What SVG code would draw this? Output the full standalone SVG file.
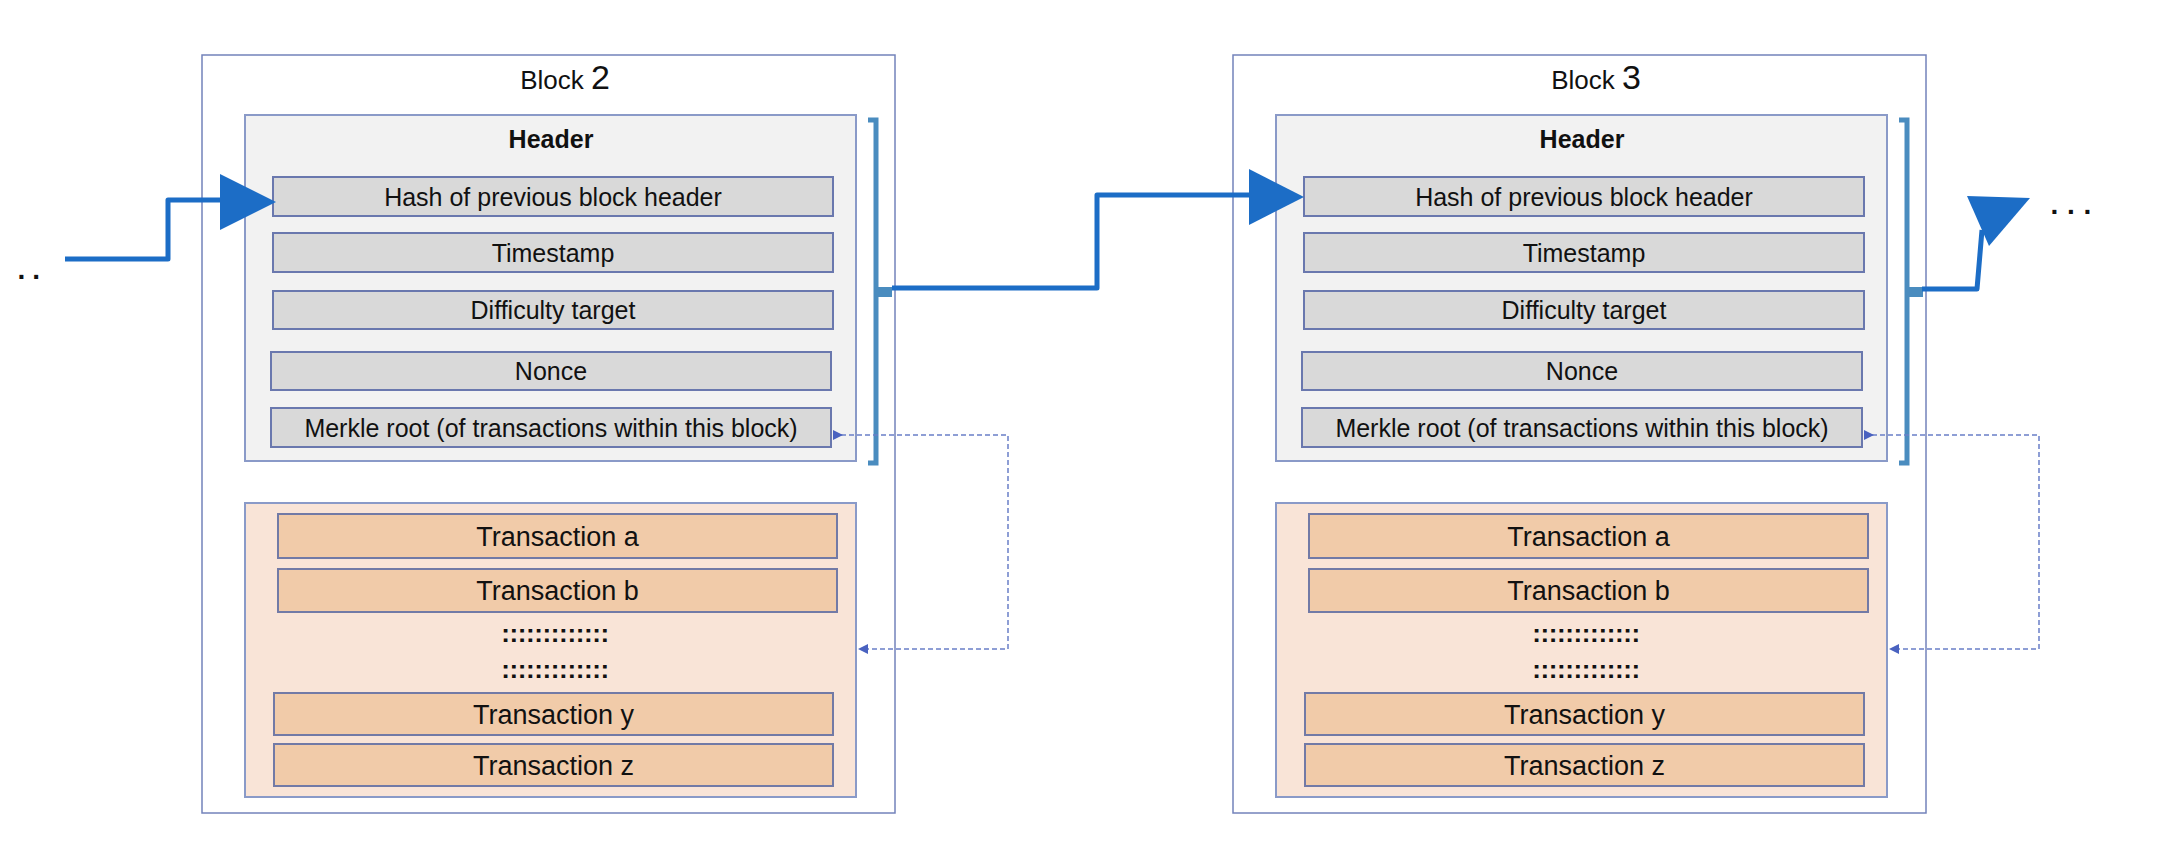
<svg xmlns="http://www.w3.org/2000/svg" width="2160" height="848" viewBox="0 0 2160 848">
<style>
  text { font-family: "Liberation Sans", Arial, sans-serif; fill: #111; }
  .outer { fill: #ffffff; stroke: #7383bb; stroke-width: 1.5; }
  .hdrbox { fill: #f2f2f2; stroke: #8a9ac8; stroke-width: 2; }
  .row { fill: #d9d9d9; stroke: #6a78ae; stroke-width: 2; }
  .txbox { fill: #f9e4d7; stroke: #8a9ac8; stroke-width: 2; }
  .txrow { fill: #f1cba9; stroke: #727aa6; stroke-width: 2; }
  .rowtxt { font-size: 25px; text-anchor: middle; }
  .txtxt { font-size: 27px; text-anchor: middle; }
  .dots { font-size: 26px; font-weight: bold; text-anchor: middle; letter-spacing: -0.4px; }
  .title { text-anchor: middle; }
  .brace { fill: none; stroke: #4a8cbf; stroke-width: 5; }
  .notch { fill: #4a8cbf; }
  .thick { fill: none; stroke: #1c6dc6; stroke-width: 5; stroke-linejoin: round; }
  .head { fill: #1c6dc6; }
  .dash { fill: none; stroke: #6a7fc8; stroke-width: 1.5; stroke-dasharray: 5 3; marker-start: url(#tri); marker-end: url(#tri); }
  .ell { font-size: 28px; font-weight: bold; }
</style>
<defs>
  <marker id="tri" markerUnits="userSpaceOnUse" markerWidth="10" markerHeight="10" viewBox="0 0 10 10" refX="0" refY="5" orient="auto">
    <path d="M0,0 L10,5 L0,10 z" fill="#4a62c0"/>
  </marker>
</defs>

<g id="block2">
  <rect class="outer" x="202" y="55" width="693" height="758"/>
  <text class="title" x="565" y="89"><tspan font-size="26">Block </tspan><tspan font-size="34">2</tspan></text>
  <g id="header2">
    <rect class="hdrbox" x="245" y="115" width="611" height="346"/>
    <text x="551" y="148" font-size="25" font-weight="bold" text-anchor="middle">Header</text>
    <rect class="row" x="273" y="177" width="560" height="39"/>
    <text class="rowtxt" x="553" y="205.5">Hash of previous block header</text>
    <rect class="row" x="273" y="233" width="560" height="39"/>
    <text class="rowtxt" x="553" y="261.5">Timestamp</text>
    <rect class="row" x="273" y="291" width="560" height="38"/>
    <text class="rowtxt" x="553" y="319">Difficulty target</text>
    <rect class="row" x="271" y="352" width="560" height="38"/>
    <text class="rowtxt" x="551" y="380">Nonce</text>
    <rect class="row" x="271" y="408" width="560" height="39"/>
    <text class="rowtxt" x="551" y="436.5">Merkle root (of transactions within this block)</text>
  </g>
  <g id="brace2">
    <path class="brace" d="M868 120 H876 V463 H868"/>
    <rect class="notch" x="874" y="287" width="18" height="10"/>
  </g>
  <g id="tx2">
    <rect class="txbox" x="245" y="503" width="611" height="294"/>
    <rect class="txrow" x="278" y="514" width="559" height="44"/>
    <text class="txtxt" x="557.5" y="545.5">Transaction a</text>
    <rect class="txrow" x="278" y="569" width="559" height="43"/>
    <text class="txtxt" x="557.5" y="600">Transaction b</text>
    <text class="dots" x="555" y="641.5">:::::::::::::</text>
    <text class="dots" x="555" y="677.5">:::::::::::::</text>
    <rect class="txrow" x="274" y="693" width="559" height="42"/>
    <text class="txtxt" x="553.5" y="723.5">Transaction y</text>
    <rect class="txrow" x="274" y="744" width="559" height="42"/>
    <text class="txtxt" x="553.5" y="774.5">Transaction z</text>
  </g>
</g>

<g id="block3" transform="translate(1031,0)">
  <rect class="outer" x="202" y="55" width="693" height="758"/>
  <text class="title" x="565" y="89"><tspan font-size="26">Block </tspan><tspan font-size="34">3</tspan></text>
  <g id="header3">
    <rect class="hdrbox" x="245" y="115" width="611" height="346"/>
    <text x="551" y="148" font-size="25" font-weight="bold" text-anchor="middle">Header</text>
    <rect class="row" x="273" y="177" width="560" height="39"/>
    <text class="rowtxt" x="553" y="205.5">Hash of previous block header</text>
    <rect class="row" x="273" y="233" width="560" height="39"/>
    <text class="rowtxt" x="553" y="261.5">Timestamp</text>
    <rect class="row" x="273" y="291" width="560" height="38"/>
    <text class="rowtxt" x="553" y="319">Difficulty target</text>
    <rect class="row" x="271" y="352" width="560" height="38"/>
    <text class="rowtxt" x="551" y="380">Nonce</text>
    <rect class="row" x="271" y="408" width="560" height="39"/>
    <text class="rowtxt" x="551" y="436.5">Merkle root (of transactions within this block)</text>
  </g>
  <g id="brace3">
    <path class="brace" d="M868 120 H876 V463 H868"/>
    <rect class="notch" x="874" y="287" width="18" height="10"/>
  </g>
  <g id="tx3">
    <rect class="txbox" x="245" y="503" width="611" height="294"/>
    <rect class="txrow" x="278" y="514" width="559" height="44"/>
    <text class="txtxt" x="557.5" y="545.5">Transaction a</text>
    <rect class="txrow" x="278" y="569" width="559" height="43"/>
    <text class="txtxt" x="557.5" y="600">Transaction b</text>
    <text class="dots" x="555" y="641.5">:::::::::::::</text>
    <text class="dots" x="555" y="677.5">:::::::::::::</text>
    <rect class="txrow" x="274" y="693" width="559" height="42"/>
    <text class="txtxt" x="553.5" y="723.5">Transaction y</text>
    <rect class="txrow" x="274" y="744" width="559" height="42"/>
    <text class="txtxt" x="553.5" y="774.5">Transaction z</text>
  </g>
</g>

<g id="ellipsis-left">
  <text class="ell" x="17.5" y="279" letter-spacing="7">..</text>
</g>
<g id="ellipsis-right">
  <text class="ell" x="2050.5" y="214" letter-spacing="8.7">...</text>
</g>

<g id="connectors">
  <polyline class="thick" points="65,259 168,259 168,200 222,200"/>
  <polygon class="head" points="220,174 220,230 276,202"/>
  <polyline class="thick" points="892,288 1097,288 1097,195 1251,195"/>
  <polygon class="head" points="1249,169 1249,225 1304,197"/>
  <polyline class="thick" points="1922,289 1977,289 1982,230"/>
  <polygon class="head" points="1967,196 2030,198 1989,246"/>
  <path class="dash" d="M833 435 H1008 V649 H868"/>
  <path class="dash" d="M1864 435 H2039 V649 H1899"/>
</g>
</svg>
